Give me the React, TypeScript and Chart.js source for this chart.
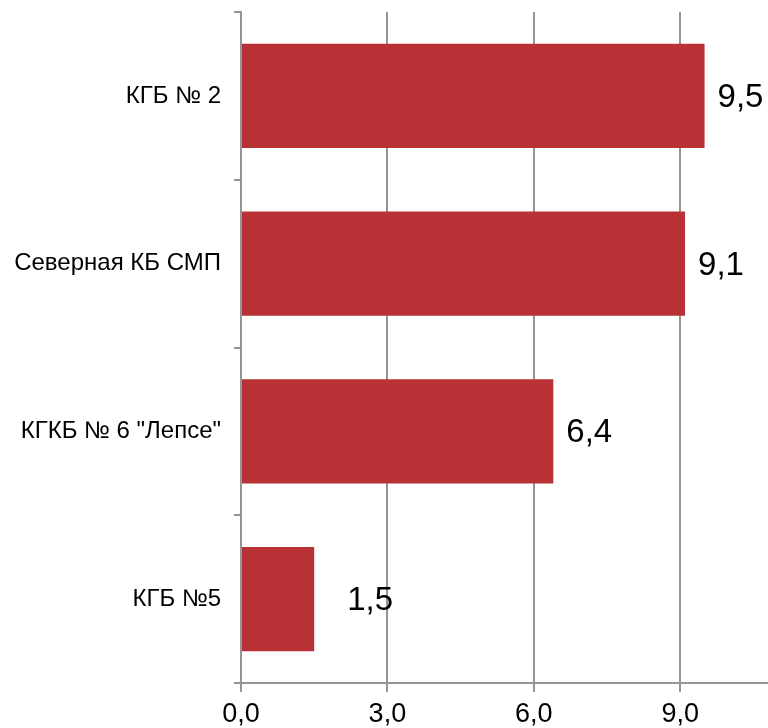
import React, { useEffect, useRef } from "react";
import { Chart, registerables } from "chart.js";

Chart.register(...registerables);

const categories = ["КГБ № 2", "Северная КБ СМП", 'КГКБ № 6 "Лепсе"', "КГБ №5"];
const values = [9.5, 9.1, 6.4, 1.5];
const xTickValues = [0, 3, 6, 9];
const xMax = 10.8;
const labelGaps = [13, 13, 13, 33];

const BAR_COLOR = "#B83235";
const GRID_COLOR = "#959595";
const FONT = "Arial, 'Liberation Sans', sans-serif";

const fmt = (v: number) => v.toFixed(1).replace(".", ",");

const dataLabelPlugin = {
  id: "dataLabels",
  afterDatasetsDraw(chart: any) {
    const ctx = chart.ctx;
    const meta = chart.getDatasetMeta(0);
    ctx.save();
    ctx.font = `33px ${FONT}`;
    ctx.fillStyle = "#000";
    ctx.textAlign = "left";
    ctx.textBaseline = "middle";
    meta.data.forEach((bar: any, i: number) => {
      ctx.fillText(fmt(values[i]), bar.x + labelGaps[i], bar.y + 2);
    });
    ctx.restore();
  },
};

export default function App() {
  const ref = useRef<HTMLCanvasElement | null>(null);

  useEffect(() => {
    if (!ref.current) return;
    const chart = new Chart(ref.current, {
      type: "bar",
      data: {
        labels: categories,
        datasets: [
          {
            data: values,
            backgroundColor: BAR_COLOR,
            borderWidth: 0,
            categoryPercentage: 1,
            barPercentage: 0.62,
          },
        ],
      },
      options: {
        indexAxis: "y",
        responsive: false,
        animation: false,
        layout: { padding: { top: 12, right: 0, left: 0, bottom: 0 } },
        plugins: {
          legend: { display: false },
          tooltip: { enabled: false },
        },
        scales: {
          x: {
            type: "linear",
            min: 0,
            max: xMax,
            afterBuildTicks: (s: any) => {
              s.ticks = xTickValues.map((v) => ({ value: v }));
            },
            afterFit: (s: any) => {
              s.height = 45;
              s.paddingLeft = 0;
              s.paddingRight = 0;
            },
            grid: {
              color: GRID_COLOR,
              lineWidth: 2,
              tickLength: 9,
              drawOnChartArea: true,
            },
            border: { display: true, color: GRID_COLOR, width: 2 },
            ticks: {
              padding: 6,
              color: "#000",
              font: { size: 27, family: FONT },
              callback: (v: any) => fmt(Number(v)),
            },
          },
          y: {
            type: "category",
            afterFit: (s: any) => {
              s.width = 241;
              s.paddingTop = 0;
              s.paddingBottom = 0;
            },
            grid: {
              offset: true,
              drawOnChartArea: false,
              drawTicks: true,
              tickLength: 7,
              color: GRID_COLOR,
              lineWidth: 2,
            },
            border: { display: true, color: GRID_COLOR, width: 2 },
            ticks: {
              padding: 13,
              color: "#000",
              font: { size: 24, family: FONT },
            },
          },
        },
      },
      plugins: [dataLabelPlugin],
    } as any);
    return () => chart.destroy();
  }, []);

  return (
    <canvas
      ref={ref}
      width={768}
      height={728}
      style={{ position: "absolute", left: 0, top: 0, width: 768, height: 728 }}
    />
  );
}
